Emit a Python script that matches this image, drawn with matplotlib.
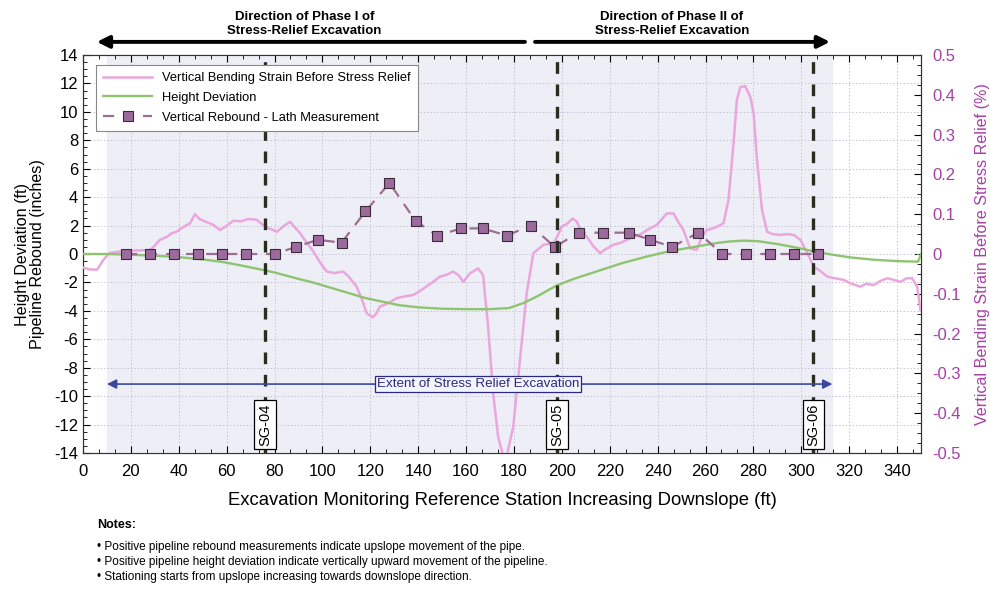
import matplotlib
matplotlib.use("Agg")
import matplotlib.pyplot as plt
from matplotlib.ticker import MultipleLocator, AutoMinorLocator, FuncFormatter

plt.rcParams['font.family'] = ['Liberation Sans', 'DejaVu Sans']
plt.rcParams['axes.unicode_minus'] = False

# vertical bending strain before stress relief (%)
strain_sta = [0, 3, 6, 8.5, 11, 14, 18, 23, 28, 30, 32, 35, 37, 39, 42, 44.7, 46.8, 48.9, 51,
              54.5, 57.3, 60, 62.9, 66, 69, 72.6, 76, 81, 84, 86.5, 90.7, 93, 96.3, 99, 101.8,
              105, 108.7, 111, 114.3, 116.5, 118.5, 121, 122.5, 124, 127, 131, 134, 137.9, 140,
              143.4, 146, 149, 152, 154.6, 157, 158.8, 161.6, 165, 167.1, 169.2, 171.3, 173.4,
              175.5, 177, 179.7, 182.5, 185.3, 188.1, 192.3, 196.5, 198, 200, 202, 204.5, 206.3,
              208, 210.4, 213, 216, 218, 221.5, 225, 229.9, 233, 235.5, 239.6, 242, 243.8, 246.6,
              248.5, 250.8, 253.6, 256.3, 258.5, 260.5, 264, 267.5, 269.6, 271.7, 273.1, 274.5,
              276.6, 278.7, 280.1, 281.5, 283.6, 285.7, 288, 291.3, 294, 296.9, 299.7, 302.5,
              305.3, 308, 310.9, 314, 317.8, 321, 324.7, 327, 330.3, 333, 335.9, 338, 341.4, 344,
              346.3, 348.4, 349.8]
strain_pct = [-0.034, -0.039, -0.039, -0.015, 0.002, 0.005, 0.008, 0.009, 0.010, 0.021, 0.035,
              0.043, 0.052, 0.056, 0.068, 0.077, 0.100, 0.087, 0.082, 0.073, 0.060, 0.071, 0.084,
              0.082, 0.088, 0.086, 0.069, 0.056, 0.071, 0.081, 0.052, 0.032, 0.006, -0.021,
              -0.044, -0.048, -0.044, -0.057, -0.082, -0.114, -0.149, -0.159, -0.150, -0.132,
              -0.125, -0.111, -0.107, -0.103, -0.096, -0.082, -0.071, -0.057, -0.052, -0.044,
              -0.054, -0.070, -0.049, -0.036, -0.053, -0.182, -0.350, -0.459, -0.507, -0.507,
              -0.434, -0.266, -0.099, 0.002, 0.023, 0.027, 0.043, 0.069, 0.075, 0.089, 0.081,
              0.057, 0.044, 0.021, 0.002, 0.011, 0.023, 0.029, 0.044, 0.050, 0.060, 0.073, 0.089,
              0.102, 0.102, 0.082, 0.060, 0.014, 0.010, 0.043, 0.060, 0.066, 0.077, 0.136, 0.278,
              0.387, 0.419, 0.422, 0.395, 0.354, 0.236, 0.111, 0.056, 0.050, 0.048, 0.050, 0.048,
              0.035, 0.002, -0.032, -0.043, -0.057, -0.061, -0.065, -0.075, -0.082, -0.075,
              -0.078, -0.068, -0.061, -0.064, -0.070, -0.061, -0.061, -0.082, -0.141]

# height deviation (ft)
height_sta = [0, 10, 20, 30, 40, 50, 58, 67, 76, 80, 90, 96, 105, 112, 118, 125, 132, 140, 150,
              160, 170, 178, 184, 190, 198, 205, 215, 225, 235, 245, 257, 265, 270, 276, 282, 290,
              298, 306, 313, 320, 330, 340, 348.8, 350]
height_ft = [0.0, 0.0, -0.05, -0.12, -0.22, -0.38, -0.55, -0.84, -1.15, -1.3, -1.75, -2.0, -2.45,
             -2.8, -3.1, -3.35, -3.6, -3.75, -3.85, -3.88, -3.88, -3.8, -3.45, -2.95, -2.2, -1.75,
             -1.2, -0.65, -0.2, 0.2, 0.55, 0.78, 0.88, 0.94, 0.9, 0.7, 0.45, 0.16, -0.05, -0.23,
             -0.4, -0.5, -0.54, 0.0]

# vertical rebound from lath measurement (inches)
lath_sta = [18, 28, 38, 48, 58, 68, 80, 89, 98, 108, 118, 128, 139, 148, 158, 167, 177, 187,
            197, 207, 217, 228, 237, 246, 257, 267, 277, 287, 297, 307]
lath_in = [0, 0, 0, 0, 0, 0, 0, 0.5, 1.0, 0.8, 3.0, 5.0, 2.3, 1.3, 1.8, 1.8, 1.3, 2.0, 0.5, 1.5,
           1.5, 1.5, 1.0, 0.5, 1.5, 0, 0, 0, 0, 0]

gauges = ['SG-04', 'SG-05', 'SG-06']
gauge_sta = [76, 198, 305]
excavation = [10, 313]

fig = plt.figure(figsize=(9.9, 5.89), dpi=100)
ax = fig.add_axes([0.0838, 0.2309, 0.8465, 0.6757])
ax2 = ax.twinx()
ax.set_zorder(ax2.get_zorder() + 1)
ax.patch.set_visible(False)
ax2.patch.set_facecolor('white')

ax.set_xlim(0, 350)
ax.set_ylim(-14, 14)
ax2.set_ylim(-0.5, 0.5)

ax.axvspan(excavation[0], excavation[1], color='#EEEEF6', zorder=0)
ax.grid(True, which='major', color='#C4C4D6', linestyle=(0, (1.5, 2)), linewidth=0.7)
ax.set_axisbelow(True)

ax.plot(strain_sta, [s * 28 for s in strain_pct], color='#EBA6DE', lw=1.8, zorder=3,
        label='Vertical Bending Strain Before Stress Relief')
ax.plot(height_sta, height_ft, color='#8EC46F', lw=1.7, zorder=4, label='Height Deviation')
ax.plot(lath_sta, lath_in, color='#9E6E92', lw=1.6, dashes=(5, 4), marker='s', markersize=7,
        markerfacecolor='#9C6A9C', markeredgecolor='#3A2A3A', markeredgewidth=0.8, zorder=5,
        label='Vertical Rebound - Lath Measurement')

for name, sta in zip(gauges, gauge_sta):
    ax.plot([sta, sta], [-14, 13.6], color='#2C2C20', lw=2.4, dashes=(3.5, 3.2), zorder=6)
    ax.text(sta, -12.0, name, rotation=90, ha='center', va='center', fontsize=10.5, zorder=8,
            bbox=dict(boxstyle='square,pad=0.25', fc='white', ec='black', lw=0.9))

# extent of excavation
ax.annotate('', xy=(excavation[0], -9.15), xytext=(excavation[1], -9.15),
            arrowprops=dict(arrowstyle='<|-|>', color='#3A48A0', lw=1.2,
                            mutation_scale=14, shrinkA=0, shrinkB=0), zorder=7)
ax.text(165, -9.15, 'Extent of Stress Relief Excavation', ha='center', va='center',
        fontsize=9.6, color='#2A2A80', zorder=8,
        bbox=dict(boxstyle='square,pad=0.15', fc='#F4F4FC', ec='#2A2A80', lw=0.9))

# phase direction arrows above the plot
ax.annotate('', xy=(5.8, 1.033), xytext=(184.6, 1.033), xycoords=('data', 'axes fraction'),
            textcoords=('data', 'axes fraction'), annotation_clip=False,
            arrowprops=dict(arrowstyle='-|>', color='black', lw=2.8, mutation_scale=18,
                            shrinkA=0, shrinkB=0))
ax.annotate('', xy=(312, 1.033), xytext=(188.8, 1.033), xycoords=('data', 'axes fraction'),
            textcoords=('data', 'axes fraction'), annotation_clip=False,
            arrowprops=dict(arrowstyle='-|>', color='black', lw=2.8, mutation_scale=18,
                            shrinkA=0, shrinkB=0))
ax.text(92.5, 1.046, 'Direction of Phase I of\nStress-Relief Excavation', transform=ax.get_xaxis_transform(),
        ha='center', va='bottom', fontsize=9.5, fontweight='bold', linespacing=1.15)
ax.text(246, 1.046, 'Direction of Phase II of\nStress-Relief Excavation', transform=ax.get_xaxis_transform(),
        ha='center', va='bottom', fontsize=9.5, fontweight='bold', linespacing=1.15)

# axes, ticks, labels
ax.xaxis.set_major_locator(MultipleLocator(20))
ax.xaxis.set_minor_locator(AutoMinorLocator(3))
ax.yaxis.set_major_locator(MultipleLocator(2))
ax.yaxis.set_minor_locator(AutoMinorLocator(4))
ax2.yaxis.set_major_locator(MultipleLocator(0.1))
ax2.yaxis.set_minor_locator(AutoMinorLocator(4))
ax2.yaxis.set_major_formatter(FuncFormatter(lambda v, p: '0' if abs(v) < 1e-9 else f'{v:.1f}'))

ax.tick_params(axis='both', which='both', direction='in', top=True, labelsize=12)
ax.tick_params(axis='both', which='major', length=5)
ax.tick_params(axis='both', which='minor', length=3)
ax.tick_params(axis='x', pad=8)
ax2.tick_params(axis='y', which='both', direction='in', labelsize=12, labelcolor='#A73FA7')
ax2.tick_params(axis='y', which='major', length=5, pad=8)
ax2.tick_params(axis='y', which='minor', length=3)
for a in (ax, ax2):
    for sp in a.spines.values():
        sp.set_color('#333333')

ax.set_xlabel('Excavation Monitoring Reference Station Increasing Downslope (ft)', fontsize=13.3)
ax.xaxis.set_label_coords(0.5, -0.097)
ax.set_ylabel('Height Deviation (ft)\nPipeline Rebound (inches)', fontsize=11.6, linespacing=1.05)
ax.yaxis.set_label_coords(-0.045, 0.5)
ax2.set_ylabel('Vertical Bending Strain Before Stress Relief (%)', fontsize=11.6, color='#A73FA7',
               rotation=90)
ax2.yaxis.set_label_coords(1.0644, 0.5)

leg = ax.legend(loc='upper left', bbox_to_anchor=(0.0155, 0.975), borderaxespad=0, fontsize=9.3,
                handlelength=3.8, fancybox=False, framealpha=1, edgecolor='#888888',
                borderpad=0.55, labelspacing=0.6)
leg.get_frame().set_linewidth(0.8)
leg.set_zorder(10)

# notes below the chart
fig.text(0.098, 0.1087, 'Notes:', fontsize=9, fontweight='bold', va='center')
notes = ['Positive pipeline rebound measurements indicate upslope movement of the pipe.',
         'Positive pipeline height deviation indicate vertically upward movement of the pipeline.',
         'Stationing starts from upslope increasing towards downslope direction.']
for i, note in enumerate(notes):
    fig.text(0.098, 0.0718 - i * 0.0255, '\u2022 ' + note, fontsize=8.5, va='center')

fig.savefig('out.png', dpi=100)
